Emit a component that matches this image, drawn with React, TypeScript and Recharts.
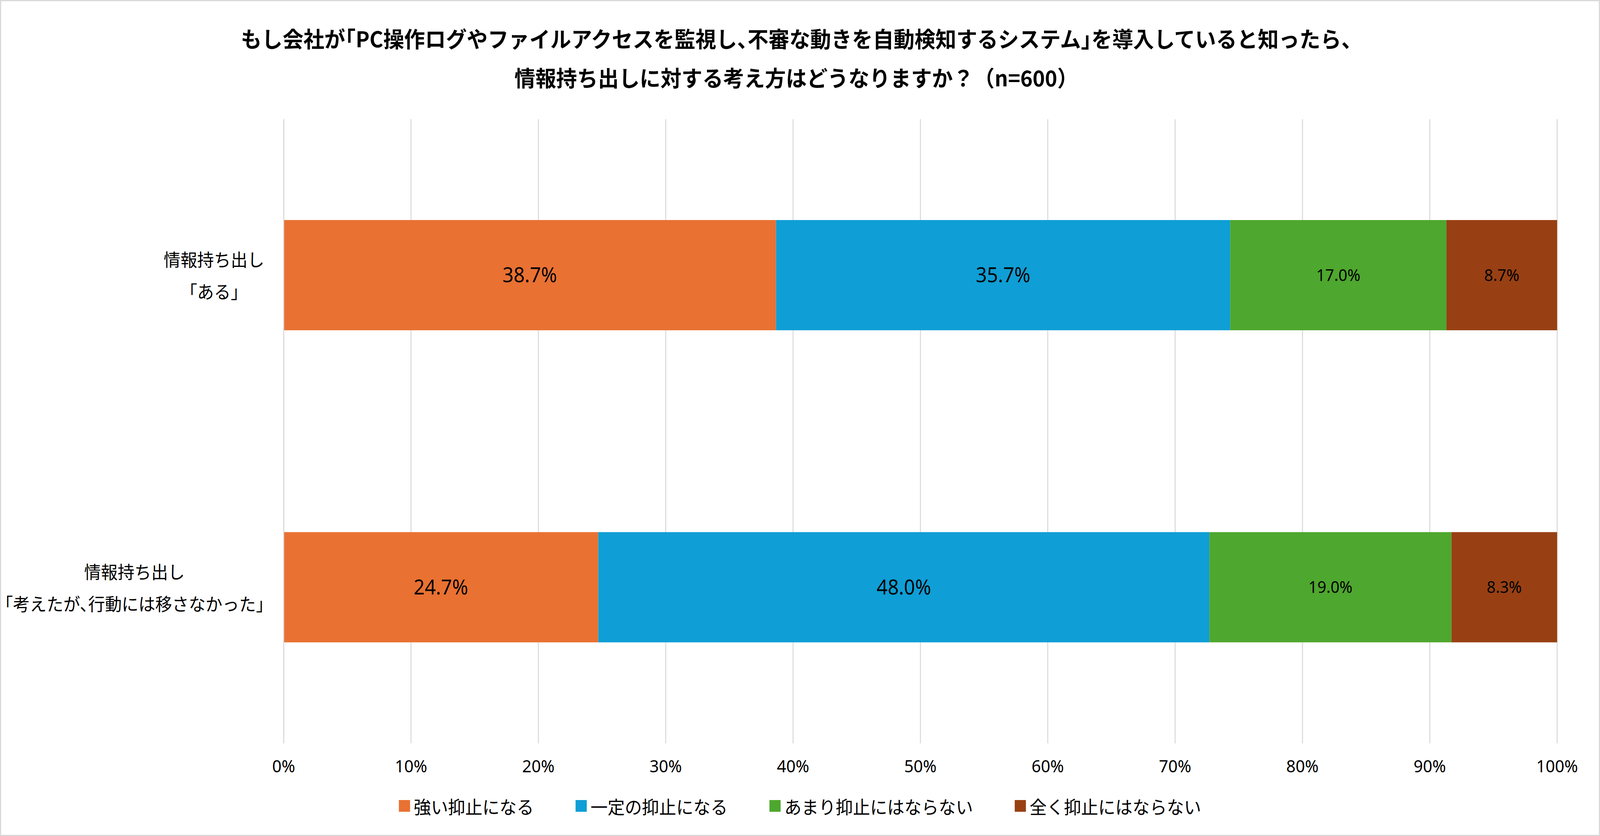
import React from 'react';
import { BarChart, Bar, XAxis, YAxis, CartesianGrid, Legend, LabelList } from 'recharts';

// categories (each label is drawn on two lines)
const categoryLines = [
  ['情報持ち出し', '「ある」'],
  ['情報持ち出し', '「考えたが、行動には移さなかった」'],
];
const seriesNames = ['強い抑止になる', '一定の抑止になる', 'あまり抑止にはならない', '全く抑止にはならない'];
const strongValues = [38.7, 24.7];
const someValues = [35.7, 48.0];
const littleValues = [17.0, 19.0];
const noneValues = [8.7, 8.3];
const xTicks = [0, 10, 20, 30, 40, 50, 60, 70, 80, 90, 100];
const titleLines = [
  'もし会社が「PC操作ログやファイルアクセスを監視し、不審な動きを自動検知するシステム」を導入していると知ったら、',
  '情報持ち出しに対する考え方はどうなりますか？（n=600）',
];

const seriesValues = [strongValues, someValues, littleValues, noneValues];
const colors = ['#E97132', '#0F9ED5', '#4EA72E', '#984013'];
const labelSizes = [52, 52, 42, 42];

const data = categoryLines.map((lines, i) => {
  const row: any = { name: lines.join('\n') };
  seriesValues.forEach((vals, s) => {
    row['s' + s] = vals[i];
  });
  return row;
});

const FONT = "'Noto Sans', 'Noto Sans CJK JP', sans-serif";
const CJK = "'Noto Sans CJK JP', sans-serif";
const W = 4292;
const H = 2139;

const CategoryTick = (props: any) => {
  const { x, y, payload } = props;
  return (
    <g>
      <foreignObject x={0} y={y - 100} width={x} height={200}>
        <div
          style={{
            display: 'flex',
            justifyContent: 'flex-end',
            alignItems: 'center',
            height: 200,
            width: x,
          }}
        >
          <div
            style={{
              textAlign: 'center',
              whiteSpace: 'pre',
              fontFamily: CJK,
              fontSize: 45,
              lineHeight: '82px',
              color: '#000',
              fontFeatureSettings: '"halt"',
            }}
          >
            {payload.value}
          </div>
        </div>
      </foreignObject>
    </g>
  );
};

const renderLegend = (props: any) => {
  const items = [...(props.payload || [])].sort(
    (a: any, b: any) => seriesNames.indexOf(a.value) - seriesNames.indexOf(b.value)
  );
  return (
    <div style={{ display: 'flex', justifyContent: 'center', alignItems: 'center', height: 64, gap: 112 }}>
      {items.map((p: any) => (
        <div key={p.value} style={{ display: 'flex', alignItems: 'center' }}>
          <div style={{ width: 30, height: 30, background: p.color, marginRight: 10 }} />
          <span style={{ fontFamily: CJK, fontSize: 46, color: '#000', whiteSpace: 'nowrap' }}>{p.value}</span>
        </div>
      ))}
    </div>
  );
};

export default function App() {
  // fit the 4292x2139 layout to the visible page
  const vw = typeof document !== 'undefined' ? document.documentElement.clientWidth || W : W;
  const vh = typeof window !== 'undefined' ? window.innerHeight || H : H;
  const sx = vw / W;
  const sy = vh / H;
  return (
    <div style={{ width: vw, height: vh, overflow: 'hidden' }}>
      <style>{'html,body{margin:0;overflow:hidden}'}</style>
      <div
        style={{
          position: 'relative',
          width: W,
          height: H,
          background: '#fff',
          fontFamily: FONT,
          transform: `scale(${sx}, ${sy})`,
          transformOrigin: '0 0',
        }}
      >
        <BarChart
          width={W}
          height={H}
          data={data}
          layout="vertical"
          stackOffset="expand"
          margin={{ top: 305, right: 115, bottom: 137, left: 0 }}
        >
          <CartesianGrid horizontal={false} stroke="#D9D9D9" strokeWidth={2.7} />
          <XAxis
            type="number"
            domain={[0, 1]}
            ticks={xTicks.map((t) => t / 100)}
            tickFormatter={(v: number) => `${Math.round(v * 100)}%`}
            axisLine={false}
            tickLine={false}
            tickSize={0}
            tickMargin={43}
            height={100}
            interval={0}
            tick={{ fill: '#000', fontSize: 44, fontFamily: FONT }}
          />
          <YAxis
            type="category"
            dataKey="name"
            width={761}
            axisLine={{ stroke: '#D9D9D9', strokeWidth: 2.7 }}
            tickLine={false}
            tickSize={0}
            tickMargin={52}
            tick={<CategoryTick />}
          />
          <Legend
            layout="horizontal"
            verticalAlign="middle"
            align="center"
            content={renderLegend}
            wrapperStyle={{ top: 2030, left: 0, width: W, height: 64 }}
          />
          {seriesNames.map((name, i) => (
            <Bar
              key={name}
              dataKey={'s' + i}
              name={name}
              stackId="a"
              fill={colors[i]}
              barSize={282}
              isAnimationActive={false}
            >
              <LabelList
                dataKey={'s' + i}
                position="center"
                fill="#000"
                fontSize={labelSizes[i]}
                fontFamily={FONT}
                formatter={(v: any) => `${Number(v).toFixed(1)}%`}
              />
            </Bar>
          ))}
        </BarChart>
        <div
          style={{
            position: 'absolute',
            top: 47,
            left: 0,
            width: W - 20,
            textAlign: 'center',
            fontFamily: CJK,
            fontWeight: 700,
            fontSize: 56,
            lineHeight: '100px',
            color: '#000',
            whiteSpace: 'nowrap',
          }}
        >
          <div style={{ fontFeatureSettings: '"halt"' }}>{titleLines[0]}</div>
          <div>{titleLines[1]}</div>
        </div>
        <div
          style={{
            position: 'absolute',
            inset: 0,
            border: '3px solid #D9D9D9',
            pointerEvents: 'none',
          }}
        />
      </div>
    </div>
  );
}
